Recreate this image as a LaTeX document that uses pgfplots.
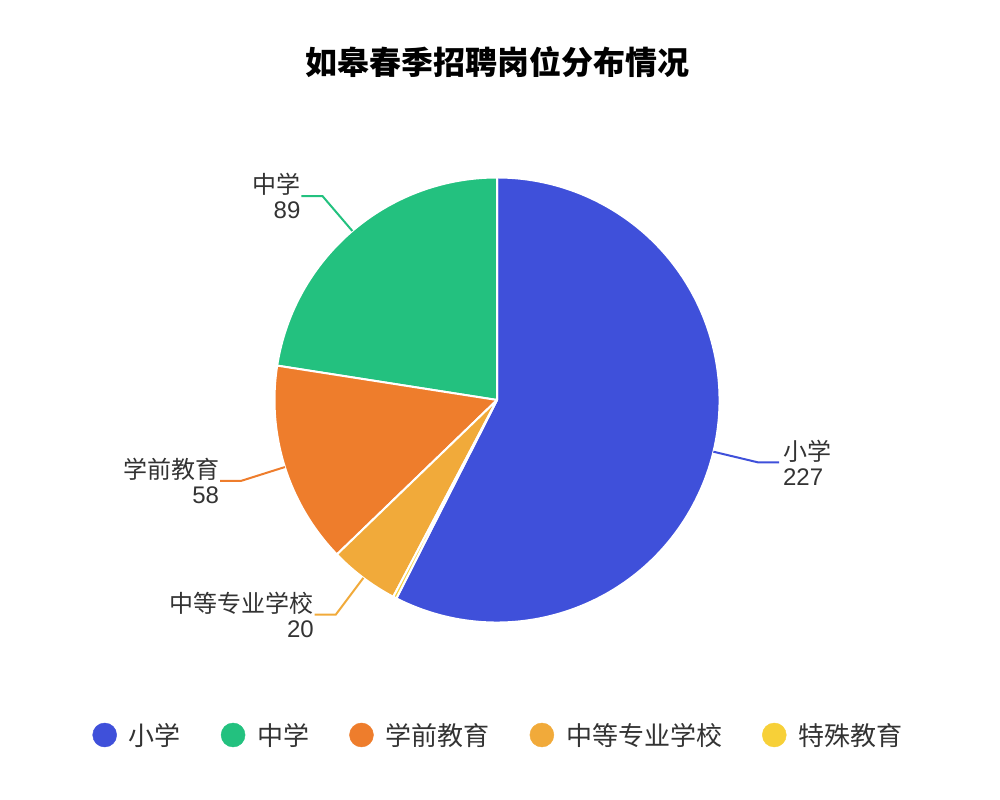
\documentclass[border=0pt]{standalone}
\usepackage{fontspec}
\setmainfont{Liberation Sans}
\newfontfamily\cjk{Noto Sans CJK SC}
\usepackage{pgfplots}
\usepackage{pgfplotstable}
\pgfplotsset{compat=1.18}

\definecolor{cXiao}{HTML}{3F50DA}
\definecolor{cZhong}{HTML}{23C17F}
\definecolor{cXueqian}{HTML}{EE7D2C}
\definecolor{cZhongzhuan}{HTML}{F1AA3A}
\definecolor{cTeshu}{HTML}{F7D038}
\definecolor{c333}{HTML}{333333}

% pie data, counter-clockwise from the end of the first slice
\pgfplotstableread[col sep=comma]{
name,value,color
小学,227,cXiao
中学,89,cZhong
学前教育,58,cXueqian
中等专业学校,20,cZhongzhuan
特殊教育,1,cTeshu
}\piedata

\def\labelfont{\fontsize{24bp}{25bp}\selectfont}
\pgfplotsset{pielegend/.style={legend image code/.code={\fill[#1] (0bp,0bp) circle (12bp);}}}

\begin{document}
\begin{tikzpicture}
\pgfplotstablegetrowsof{\piedata}
\pgfmathtruncatemacro\lastrow{\pgfplotsretval-1}
\gdef\pietotal{0}
\foreach \i in {0,...,\lastrow}{%
  \pgfplotstablegetelem{\i}{value}\of\piedata
  \pgfmathsetmacro\tmpsum{\pietotal+\pgfplotsretval}%
  \global\let\pietotal\tmpsum}
\pgfplotstablegetelem{0}{value}\of\piedata
\pgfmathsetmacro\startangle{90-\pgfplotsretval/\pietotal*360}
\global\let\curangle\startangle

\begin{axis}[
    x=1bp, y=1bp, xmin=0, xmax=1000, ymin=0, ymax=800,
    hide axis, clip=false,
    legend columns=-1,
    legend cell align=left,
    legend style={draw=none, fill=none, at={(0.4975,0.08125)}, anchor=center,
        font=\cjk\fontsize{26bp}{26bp}\selectfont, text=c333,
        nodes={inner xsep=0bp, inner ysep=0bp},
        /tikz/every odd column/.append style={column sep=12bp},
        /tikz/every even column/.append style={column sep=40bp}},
]
\path (axis cs:0,0) rectangle (axis cs:1000,800);

\foreach \i in {0,...,\lastrow}{%
  \pgfplotstablegetelem{\i}{value}\of\piedata \let\val\pgfplotsretval
  \pgfplotstablegetelem{\i}{color}\of\piedata \edef\col{\pgfplotsretval}%
  \pgfmathsetmacro\a{\curangle}%
  \pgfmathsetmacro\b{\curangle+\val/\pietotal*360}%
  \edef\tmp{\noexpand\fill[\col, draw=white, line width=2bp, line join=round]
    (axis cs:497,400) -- (axis cs:{497+222.5*cos(\a)},{400+222.5*sin(\a)})
    arc[start angle=\a, end angle=\b, radius=222.5bp] -- cycle;}\tmp
  \global\let\curangle\b
}

\global\let\curangle\startangle
\foreach \i in {0,...,\lastrow}{%
  \pgfplotstablegetelem{\i}{value}\of\piedata \let\val\pgfplotsretval
  \pgfplotstablegetelem{\i}{color}\of\piedata \edef\col{\pgfplotsretval}%
  \pgfplotstablegetelem{\i}{name}\of\piedata \edef\nm{\pgfplotsretval}%
  \pgfmathsetmacro\a{\curangle}%
  \pgfmathsetmacro\b{\curangle+\val/\pietotal*360}%
  \pgfmathsetmacro\m{(\a+\b)/2}%
  \pgfmathsetmacro\px{497+222.5*cos(\m)}%
  \pgfmathsetmacro\py{400+222.5*sin(\m)}%
  \pgfmathsetmacro\bx{497+268.5*cos(\m)}%
  \pgfmathsetmacro\by{400+268.5*sin(\m)}%
  \pgfmathparse{cos(\m)>=0 ? 1 : 0}%
  \ifdim\pgfmathresult pt>0.5pt
    \pgfmathsetmacro\ex{\bx+21}\def\anc{west}\def\aln{left}\def\xs{3bp}%
  \else
    \pgfmathsetmacro\ex{\bx-21}\def\anc{east}\def\aln{right}\def\xs{0bp}%
  \fi
  \pgfmathparse{\val>5 ? 1 : 0}%
  \ifdim\pgfmathresult pt>0.5pt
    \edef\tmp{\noexpand\draw[\col, line width=2bp]
      (axis cs:\px,\py) -- (axis cs:\bx,\by) -- (axis cs:\ex,\by)
      node[anchor=\anc, align=\aln, inner xsep=\xs, inner ysep=0bp, text=c333,
           font=\noexpand\labelfont] {{\noexpand\cjk\nm}\noexpand\\\val};}\tmp
  \fi
  \global\let\curangle\b
}

\node[font=\cjk\bfseries\fontsize{32bp}{32bp}\selectfont, text=black]
  at (axis cs:497,738) {如皋春季招聘岗位分布情况};

\addlegendimage{pielegend=cXiao}\addlegendentry{小学}
\addlegendimage{pielegend=cZhong}\addlegendentry{中学}
\addlegendimage{pielegend=cXueqian}\addlegendentry{学前教育}
\addlegendimage{pielegend=cZhongzhuan}\addlegendentry{中等专业学校}
\addlegendimage{pielegend=cTeshu}\addlegendentry{特殊教育}
\end{axis}
\end{tikzpicture}
\end{document}
